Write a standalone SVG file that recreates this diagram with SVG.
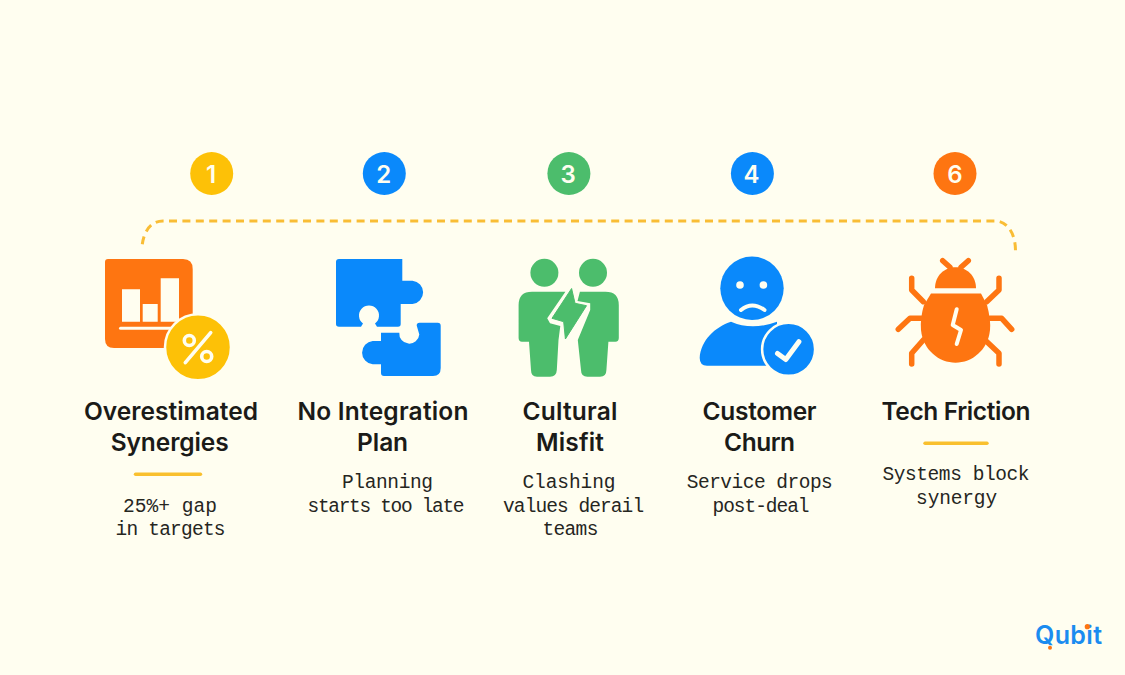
<svg xmlns="http://www.w3.org/2000/svg" width="1125" height="675" viewBox="0 0 1125 675">
<style>
.num{font:600 24px Inter,"Liberation Sans",sans-serif;fill:#fffef0;text-anchor:middle}
.t{font:600 24.5px Inter,"Liberation Sans",sans-serif;fill:#1b1b18;text-anchor:middle}
.b{font:400 19.5px "Liberation Mono",monospace;fill:#26261f;text-anchor:middle}
.y{fill:#fdc107}.bl{fill:#0a89fb}.g{fill:#4cbd6c}.o{fill:#fe7511}
.rule{stroke:#f9c02e;stroke-width:3.4;stroke-linecap:round}
.cut{fill:none;stroke:#fffef0;stroke-linecap:round;stroke-linejoin:round}
.leg{fill:none;stroke:#fe7511;stroke-width:5.5;stroke-linecap:round;stroke-linejoin:round}
</style>
<rect width="1125" height="675" fill="#fffef0"/>
<g id="connectors">
<path d="M142.3 244.3C144 231 151 221 163 221H995C1007 221 1015.5 233 1015.5 250.7" fill="none" stroke="#f9bd35" stroke-width="3" stroke-dasharray="8 5.4"/>
</g>
<g id="node-1">
<circle class="y" cx="211.7" cy="173.5" r="21.5"/>
<text class="num" x="211" y="183.3">1</text>
<path class="o" d="M108 259H183Q192.7 259 192.7 269V340Q192.7 348 185 348H114Q105 348 105 339V262Q105 259 108 259Z"/>
<path fill="#fffef0" d="M122 289.3H140V321.7H122ZM142.7 304H157.7V321.7H142.7ZM160.7 278.3H179V321.7H160.7Z"/>
<path d="M120.5 328.3H172" stroke="#fffef0" stroke-width="3" stroke-linecap="round"/>
<circle class="y" cx="198" cy="347.3" r="33" stroke="#fffef0" stroke-width="2.5"/>
<path class="cut" stroke-width="3.6" d="M185.3 362.7L210.7 332.7"/>
<circle class="cut" stroke-width="3.6" cx="189.3" cy="340.5" r="5"/>
<circle class="cut" stroke-width="3.6" cx="206.7" cy="356.5" r="5"/>
<text class="t" x="171" y="420" textLength="174">Overestimated</text>
<text class="t" x="169.7" y="451" textLength="118">Synergies</text>
<path class="rule" d="M135.5 474.3H200.5"/>
<text class="b" x="170" y="512" textLength="94">25%+ gap</text>
<text class="b" x="170.5" y="535" textLength="110">in targets</text>
</g>
<g id="node-2">
<circle class="bl" cx="384.3" cy="173.5" r="21.5"/>
<text class="num" x="383.7" y="183.3">2</text>
<path class="bl" d="M339 259H402.3V280.7H412.5A11.7 11.7 0 0 1 412.5 304H400.7V324Q400.7 326.7 398 326.7H377L375 323.5A10 10 0 1 0 363 323.5L361 326.7H339Q336 326.7 336 324V262Q336 259 339 259Z"/>
<path class="bl" d="M381 332.7H399.3A10 10 0 1 0 419.3 334.5L416.7 325.5Q416.7 322.7 419.5 322.7H437.7Q440.7 322.7 440.7 325.7V368Q440.7 376 433 376H384Q381 376 381 373V364.3H372.7A11.7 11.7 0 0 1 372.7 341H381Z"/>
<text class="t" x="383" y="420" textLength="171">No Integration</text>
<text class="t" x="382.6" y="451" textLength="51">Plan</text>
<text class="b" x="387.5" y="488" textLength="91">Planning</text>
<text class="b" x="386" y="512" textLength="157">starts too late</text>
</g>
<g id="node-3">
<circle class="g" cx="568.9" cy="173.5" r="21.5"/>
<text class="num" x="568.2" y="183.3">3</text>
<circle class="g" cx="544.4" cy="272.8" r="14"/>
<circle class="g" cx="593" cy="272.8" r="14"/>
<path class="g" d="M518.6 305Q518.6 291.7 532 291.7H565.4L547.2 318.3 550 323.3 560.3 326 558.5 340 556.8 370Q556.5 376.7 550 376.7H537Q531 376.7 531 370L529 341.7H522Q518.6 341.7 518.6 338Z"/>
<path class="g" d="M618.8 305Q618.8 291.7 605.4 291.7H579.9L577.5 301 590.2 303.3V310L577.8 340 581 370Q581 376.7 587.4 376.7H600Q606.4 376.7 606.4 370L608.4 341.7H615.4Q618.8 341.7 618.8 338Z"/>
<path class="g" stroke="#4cbd6c" stroke-width="1" stroke-linejoin="round" d="M571.6 288.5L552 318.3 563.7 321.7 565.4 339 586.5 305.7 575 303.3Z"/>
<text class="t" x="570" y="420" textLength="95">Cultural</text>
<text class="t" x="570" y="451" textLength="68">Misfit</text>
<text class="b" x="569" y="488" textLength="93">Clashing</text>
<text class="b" x="573.6" y="512" textLength="141">values derail</text>
<text class="b" x="570.4" y="535" textLength="56">teams</text>
</g>
<g id="node-4">
<circle class="bl" cx="752.4" cy="173.5" r="21.5"/>
<text class="num" x="751.4" y="183.3">4</text>
<circle class="bl" cx="752" cy="288.3" r="31.7"/>
<circle fill="#fffef0" cx="740" cy="285" r="3.8"/>
<circle fill="#fffef0" cx="763.4" cy="285" r="3.8"/>
<path class="cut" stroke-width="4" d="M741 310Q752 301 764.5 310"/>
<path class="bl" d="M707 365.7Q699.7 365.7 699.7 358C701 340 715 327 731 321.7Q752 331 777 321.7V365.7Z"/>
<circle class="bl" cx="788.6" cy="349.3" r="26.5" stroke="#fffef0" stroke-width="2.5"/>
<path class="cut" stroke-width="5" d="M777.5 353.5L785.8 359.5 798.9 341.7"/>
<text class="t" x="759.6" y="420" textLength="114">Customer</text>
<text class="t" x="759.6" y="451" textLength="71">Churn</text>
<text class="b" x="759.8" y="488" textLength="146">Service drops</text>
<text class="b" x="761" y="512" textLength="97">post-deal</text>
</g>
<g id="node-6">
<circle class="o" cx="955" cy="173.5" r="21.5"/>
<text class="num" x="955" y="183.3">6</text>
<path class="leg" stroke-width="4.5" d="M942.7 260.7L950 267.3M968.3 260.7L961 267.3"/>
<path class="o" d="M935 288.3C935 276 944 267.3 955.5 267.3S976 276 976 288.3Z"/>
<path class="o" d="M931 293.5H981L987 305Q991 320 990 330C988 350 972 362.7 955.5 362.7S923 350 921 330Q920 318 924 305Z"/>
<path class="leg" d="M911.7 278.3V290L923.3 301.7M999 278.3V290L986.7 301.7M898.3 329.3L910 318.3H921.7M1011.7 329.3L1001.7 318.3H990M923.3 340L911.7 353.3V364M985 340L999 353.3V364"/>
<path class="cut" stroke-width="4" d="M956.7 309.3L952.7 325 961 330 956.7 344"/>
<text class="t" x="956" y="420" textLength="149">Tech Friction</text>
<path class="rule" d="M925 443.3H987"/>
<text class="b" x="956" y="480" textLength="147">Systems block</text>
<text class="b" x="956.6" y="504" textLength="81">synergy</text>
</g>
<g id="logo">
<text x="1068.5" y="644" text-anchor="middle" textLength="67" font-family="Inter,sans-serif" font-weight="600" font-size="25" fill="#1a8cf0">Qubit</text>
<circle class="o" cx="1050" cy="647.7" r="2"/>
<circle class="o" cx="1087.3" cy="626.7" r="2.6"/>
</g>
</svg>
